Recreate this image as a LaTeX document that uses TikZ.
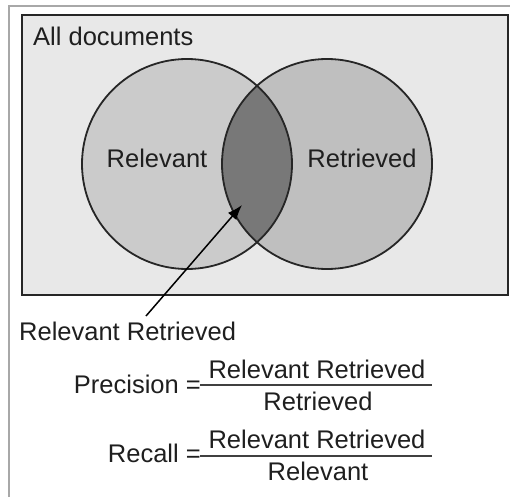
\documentclass[tikz,border=0pt]{standalone}
\usepackage{fontspec}
\setmainfont{Liberation Sans}
\usetikzlibrary{arrows.meta}
\definecolor{bgfill}{HTML}{E8E8E8}
\definecolor{leftfill}{HTML}{CBCBCB}
\definecolor{rightfill}{HTML}{BFBFBF}
\definecolor{lensfill}{HTML}{787878}
\definecolor{framegray}{HTML}{A8A8A8}
\definecolor{edge}{HTML}{262626}
\begin{document}
\begin{tikzpicture}[x=1pt,y=-1pt,
  lbl/.style={inner sep=0pt,anchor=base,font=\fontsize{25.5}{30}\selectfont,text=black!88},
  outline/.style={draw=edge,line width=1.8pt},
  fracbar/.style={draw=black!75,line width=1.5pt}]
\useasboundingbox (0,0) rectangle (510,497);
\fill[white] (0,0) rectangle (510,497);
% outer frame
\draw[framegray,line width=2pt] (9,497) -- (9,6) -- (510,6);
% all documents box
\draw[outline,fill=bgfill] (22,15) rectangle (508,295);
% circles
\fill[leftfill] (187,164) circle[radius=105];
\fill[rightfill] (327,164) circle[radius=105];
\begin{scope}
  \clip (187,164) circle[radius=105];
  \fill[lensfill] (327,164) circle[radius=105];
\end{scope}
\draw[outline] (187,164) circle[radius=105];
\draw[outline] (327,164) circle[radius=105];
% labels
\node[lbl,anchor=base west] (all) at (33,46) {All documents};
\node[lbl] (rel) at (157,167) {Relevant};
\node[lbl] (ret) at (362,167) {Retrieved};
\node[lbl,anchor=base west] (rr) at (19,340) {Relevant Retrieved};
% arrow
\coordinate (tail) at (146,316);
\coordinate (tip) at (242,205);
\draw[black,line width=1.5pt,-{Latex[length=15pt,width=11pt]}] (tail) -- (tip);
% precision
\node[lbl,anchor=base east] (prec) at (201,393) {Precision =};
\node[lbl] (pnum) at (317,378) {Relevant Retrieved};
\node[lbl] (pden) at (318,410) {Retrieved};
\coordinate (pbarL) at (200,385);
\coordinate (pbarR) at (432,385);
\draw[fracbar] (pbarL) -- (pbarR);
% recall
\node[lbl,anchor=base east] (rec) at (201,462) {Recall =};
\node[lbl] (rnum) at (317,448) {Relevant Retrieved};
\node[lbl] (rden) at (318,480) {Relevant};
\coordinate (rbarL) at (200,456);
\coordinate (rbarR) at (432,456);
\draw[fracbar] (rbarL) -- (rbarR);
\end{tikzpicture}
\end{document}
